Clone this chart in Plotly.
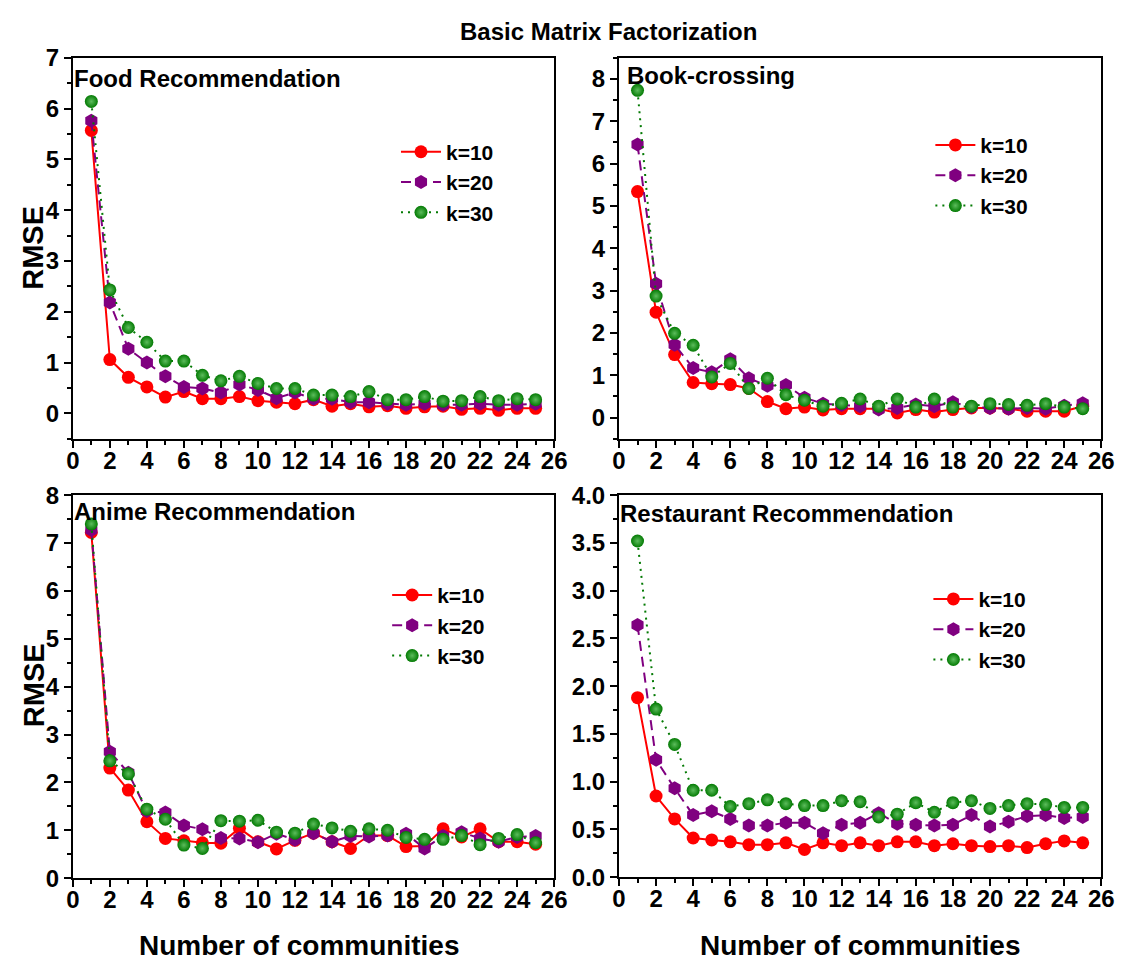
import plotly.graph_objects as go

W, H = 1130, 966

communities = list(range(1, 26))
series_names = ["k=10", "k=20", "k=30"]

food_k10 = [5.57, 1.06, 0.71, 0.52, 0.32, 0.43, 0.29, 0.29, 0.33, 0.25, 0.22, 0.19, 0.27, 0.14, 0.19, 0.13, 0.15, 0.10, 0.13, 0.14, 0.08, 0.10, 0.06, 0.10, 0.10]
food_k20 = [5.76, 2.18, 1.27, 1.00, 0.73, 0.52, 0.49, 0.41, 0.57, 0.46, 0.30, 0.41, 0.29, 0.29, 0.22, 0.22, 0.19, 0.17, 0.19, 0.17, 0.17, 0.19, 0.17, 0.17, 0.19]
food_k30 = [6.14, 2.43, 1.69, 1.40, 1.03, 1.03, 0.75, 0.64, 0.73, 0.59, 0.49, 0.49, 0.36, 0.36, 0.33, 0.43, 0.27, 0.27, 0.33, 0.24, 0.25, 0.33, 0.25, 0.29, 0.27]

book_k10 = [5.34, 2.49, 1.49, 0.83, 0.80, 0.78, 0.69, 0.38, 0.21, 0.25, 0.18, 0.21, 0.21, 0.21, 0.11, 0.19, 0.13, 0.19, 0.23, 0.23, 0.21, 0.15, 0.15, 0.15, 0.27]
book_k20 = [6.45, 3.16, 1.72, 1.17, 1.07, 1.38, 0.93, 0.75, 0.77, 0.47, 0.33, 0.30, 0.27, 0.19, 0.23, 0.31, 0.27, 0.36, 0.25, 0.23, 0.21, 0.23, 0.21, 0.28, 0.34]
book_k30 = [7.73, 2.87, 1.99, 1.71, 0.96, 1.28, 0.69, 0.93, 0.54, 0.41, 0.27, 0.34, 0.44, 0.27, 0.44, 0.25, 0.44, 0.25, 0.27, 0.33, 0.31, 0.29, 0.33, 0.25, 0.21]

anime_k10 = [7.22, 2.30, 1.84, 1.18, 0.83, 0.78, 0.74, 0.73, 1.04, 0.76, 0.61, 0.79, 0.94, 0.76, 0.62, 0.89, 0.89, 0.66, 0.67, 1.03, 0.86, 1.03, 0.76, 0.76, 0.71]
anime_k20 = [7.27, 2.64, 2.20, 1.40, 1.37, 1.10, 1.02, 0.84, 0.83, 0.75, 0.93, 0.80, 0.94, 0.76, 0.88, 0.87, 0.89, 0.93, 0.62, 0.88, 0.96, 0.83, 0.76, 0.86, 0.88]
anime_k30 = [7.40, 2.45, 2.18, 1.44, 1.23, 0.69, 0.62, 1.20, 1.19, 1.21, 0.96, 0.94, 1.13, 1.05, 0.98, 1.03, 1.00, 0.85, 0.81, 0.81, 0.89, 0.70, 0.83, 0.91, 0.74]

rest_k10 = [1.88, 0.85, 0.61, 0.41, 0.39, 0.37, 0.34, 0.34, 0.36, 0.29, 0.36, 0.33, 0.36, 0.33, 0.37, 0.37, 0.33, 0.35, 0.33, 0.32, 0.33, 0.31, 0.35, 0.38, 0.36]
rest_k20 = [2.64, 1.23, 0.93, 0.65, 0.69, 0.61, 0.54, 0.54, 0.57, 0.57, 0.46, 0.55, 0.57, 0.67, 0.56, 0.55, 0.54, 0.55, 0.65, 0.53, 0.58, 0.64, 0.65, 0.62, 0.63]
rest_k30 = [3.52, 1.76, 1.39, 0.91, 0.91, 0.74, 0.77, 0.81, 0.77, 0.75, 0.75, 0.80, 0.79, 0.63, 0.66, 0.78, 0.68, 0.78, 0.80, 0.72, 0.75, 0.77, 0.76, 0.73, 0.73]

panel_titles = ["Food Recommendation", "Book-crossing", "Anime Recommendation", "Restaurant Recommendation"]

x_tick_vals = [0, 2, 4, 6, 8, 10, 12, 14, 16, 18, 20, 22, 24, 26]
x_tick_labels = ["0", "2", "4", "6", "8", "10", "12", "14", "16", "18", "20", "22", "24", "26"]
food_y_ticks = [0, 1, 2, 3, 4, 5, 6, 7]
book_y_ticks = [0, 1, 2, 3, 4, 5, 6, 7, 8]
anime_y_ticks = [0, 1, 2, 3, 4, 5, 6, 7, 8]
rest_y_ticks = [0.0, 0.5, 1.0, 1.5, 2.0, 2.5, 3.0, 3.5, 4.0]
food_y_labels = ["0", "1", "2", "3", "4", "5", "6", "7"]
book_y_labels = ["0", "1", "2", "3", "4", "5", "6", "7", "8"]
anime_y_labels = ["0", "1", "2", "3", "4", "5", "6", "7", "8"]
rest_y_labels = ["0.0", "0.5", "1.0", "1.5", "2.0", "2.5", "3.0", "3.5", "4.0"]

panel_data = [
    (food_k10, food_k20, food_k30),
    (book_k10, book_k20, book_k30),
    (anime_k10, anime_k20, anime_k30),
    (rest_k10, rest_k20, rest_k30),
]
y_ticks = [food_y_ticks, book_y_ticks, anime_y_ticks, rest_y_ticks]
y_labels = [food_y_labels, book_y_labels, anime_y_labels, rest_y_labels]
y_ranges = [[-0.5, 7], [-0.5, 8.5], [0, 8], [0, 4]]
y_minor = [0.5, 0.5, 0.5, 0.25]

FONT = "Liberation Sans"

# pixel geometry of plot areas (left, right, top, bottom)
px_boxes = [(67, 557, 45, 437), (623, 1114, 45, 437), (67, 557, 495, 889), (623, 1114, 495, 888)]

colors = ["#ff0000", "#800080", "#037a03"]


def bold(labels):
    return ["<b>" + s + "</b>" for s in labels]


fig = go.Figure()

for i, data in enumerate(panel_data):
    n = i + 1
    xa = "x" if n == 1 else f"x{n}"
    ya = "y" if n == 1 else f"y{n}"
    leg = "legend" if n == 1 else f"legend{n}"
    styles = [
        dict(line=dict(color=colors[0], width=2, dash="solid"),
             marker=dict(symbol="circle", size=13, color=colors[0])),
        dict(line=dict(color=colors[1], width=2, dash="10px,6px"),
             marker=dict(symbol="hexagon", size=14, color=colors[1])),
        dict(line=dict(color=colors[2], width=2, dash="2px,5px"),
             marker=dict(symbol="circle", size=13, color=colors[2],
                         gradient=dict(type="radial", color="#5cbc5c"))),
    ]
    for name, vals, st in zip(series_names, data, styles):
        fig.add_trace(go.Scatter(
            x=communities, y=vals, mode="lines+markers", name=name,
            xaxis=xa, yaxis=ya, legend=leg, line=st["line"], marker=st["marker"],
            showlegend=True,
        ))

layout = dict(
    width=W, height=H,
    margin=dict(l=0, r=0, t=0, b=0),
    paper_bgcolor="white", plot_bgcolor="white",
    font=dict(family=FONT, color="black", weight=700),
)

tickfont = dict(family=FONT, size=24, color="black", weight=700)

for i, box in enumerate(px_boxes):
    n = i + 1
    l, r, t, b = box
    xd = [l / W, r / W]
    yd = [1 - b / H, 1 - t / H]
    xk = "xaxis" if n == 1 else f"xaxis{n}"
    yk = "yaxis" if n == 1 else f"yaxis{n}"
    ya = "y" if n == 1 else f"y{n}"
    xa = "x" if n == 1 else f"x{n}"
    layout[xk] = dict(
        domain=xd, anchor=ya, range=[0, 26],
        tickmode="array", tickvals=x_tick_vals, ticktext=bold(x_tick_labels),
        showline=True, linecolor="black", linewidth=2, mirror=True,
        ticks="outside", ticklen=7, tickwidth=2, tickcolor="black",
        minor=dict(ticks="outside", dtick=1, tick0=0, ticklen=4, tickwidth=1.5, tickcolor="black"),
        showgrid=False, zeroline=False, tickfont=tickfont, ticklabelstandoff=-8,
    )
    layout[yk] = dict(
        domain=yd, anchor=xa, range=y_ranges[i],
        tickmode="array", tickvals=y_ticks[i], ticktext=bold(y_labels[i]),
        showline=True, linecolor="black", linewidth=2, mirror=True,
        ticks="outside", ticklen=7, tickwidth=2, tickcolor="black",
        minor=dict(ticks="outside", dtick=y_minor[i], tick0=0, ticklen=4, tickwidth=1.5, tickcolor="black"),
        showgrid=False, zeroline=False, tickfont=tickfont, ticklabelstandoff=0,
    )
    m = n + 4
    layout[f"xaxis{m}"] = dict(
        overlaying=xa, anchor=ya, side="top", range=[0, 26],
        tickmode="array", tickvals=x_tick_vals,
        showline=False, ticks="inside", ticklen=7, tickwidth=2, tickcolor="black",
        minor=dict(ticks="inside", dtick=1, tick0=0, ticklen=4, tickwidth=1.5, tickcolor="black"),
        showticklabels=False, showgrid=False, zeroline=False,
    )
    layout[f"yaxis{m}"] = dict(
        overlaying=ya, anchor=xa, side="right", range=y_ranges[i],
        tickmode="array", tickvals=y_ticks[i],
        showline=False, ticks="inside", ticklen=7, tickwidth=2, tickcolor="black",
        minor=dict(ticks="inside", dtick=y_minor[i], tick0=0, ticklen=4, tickwidth=1.5, tickcolor="black"),
        showticklabels=False, showgrid=False, zeroline=False,
    )

legend_pos = [(396, 121), (940, 114), (387, 577), (938, 581)]
for i, (lx, ly) in enumerate(legend_pos):
    n = i + 1
    key = "legend" if n == 1 else f"legend{n}"
    layout[key] = dict(
        x=lx / W, y=1 - ly / H, xanchor="left", yanchor="top",
        bgcolor="rgba(0,0,0,0)", borderwidth=0,
        font=dict(family=FONT, size=21, color="black", weight="bold"),
        tracegroupgap=0, itemwidth=40,
    )

annotations = []
title_pos = [(66, 66), (629, 63), (66, 512), (622, 514)]
for (tx, ty), txt in zip(title_pos, panel_titles):
    annotations.append(dict(
        text="<b>" + txt + "</b>", x=tx / W, y=1 - ty / H, xref="paper", yref="paper",
        xanchor="left", yanchor="middle", showarrow=False,
        font=dict(family=FONT, size=24, color="black"),
    ))
annotations.append(dict(
    text="<b>Basic Matrix Factorization</b>", x=612 / W, y=1 - 18 / H, xref="paper", yref="paper",
    xanchor="center", yanchor="middle", showarrow=False,
    font=dict(family=FONT, size=24, color="black"),
))
for cy in (241, 691):
    annotations.append(dict(
        text="<b>RMSE</b>", x=27 / W, y=1 - cy / H, xref="paper", yref="paper",
        xanchor="center", yanchor="middle", showarrow=False, textangle=-90,
        font=dict(family=FONT, size=29, color="black"),
    ))
for cx in (297, 868):
    annotations.append(dict(
        text="<b>Number of communities</b>", x=cx / W, y=1 - 958 / H, xref="paper", yref="paper",
        xanchor="center", yanchor="middle", showarrow=False,
        font=dict(family=FONT, size=28, color="black"),
    ))
layout["annotations"] = annotations

fig.update_layout(**layout)
fig.write_html("out.html")
